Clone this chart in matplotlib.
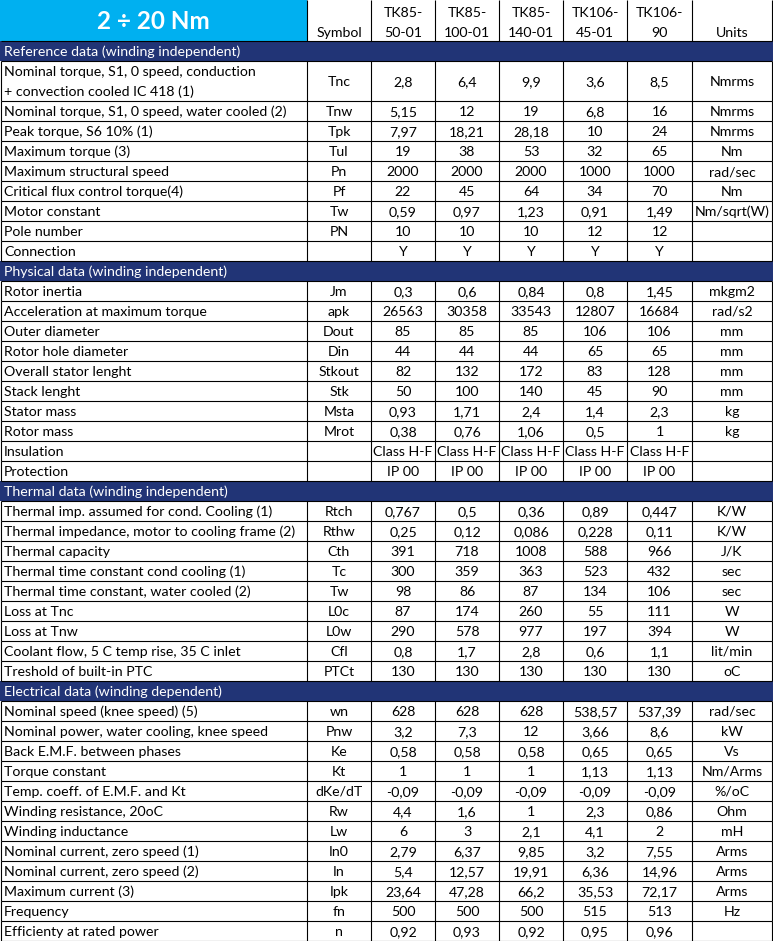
import matplotlib
matplotlib.use("Agg")
import matplotlib.pyplot as plt
from matplotlib.patches import Rectangle

# ---------------- data ----------------
title = "2 ÷ 20 Nm"
models = ["TK85-\n50-01", "TK85-\n100-01", "TK85-\n140-01", "TK106-\n45-01", "TK106-\n90"]

sec_names = ["Reference data (winding independent)",
             "Physical data (winding independent)",
             "Thermal data (winding independent)",
             "Electrical data (winding dependent)"]

ref_labels = ["Nominal torque, S1, 0 speed, conduction\n+ convection cooled IC 418 (1)",
              "Nominal torque, S1, 0 speed, water cooled (2)",
              "Peak torque, S6 10% (1)", "Maximum torque (3)",
              "Maximum structural speed", "Critical flux control torque(4)",
              "Motor constant", "Pole number", "Connection"]
ref_symbols = ["Tnc", "Tnw", "Tpk", "Tul", "Pn", "Pf", "Tw", "PN", ""]
ref_units = ["Nmrms", "Nmrms", "Nmrms", "Nm", "rad/sec", "Nm", "Nm/sqrt(W)", "", ""]
ref_values = [["2,8", "6,4", "9,9", "3,6", "8,5"],
              ["5,15", "12", "19", "6,8", "16"],
              ["7,97", "18,21", "28,18", "10", "24"],
              ["19", "38", "53", "32", "65"],
              ["2000", "2000", "2000", "1000", "1000"],
              ["22", "45", "64", "34", "70"],
              ["0,59", "0,97", "1,23", "0,91", "1,49"],
              ["10", "10", "10", "12", "12"],
              ["Y", "Y", "Y", "Y", "Y"]]

phy_labels = ["Rotor inertia", "Acceleration at maximum torque", "Outer diameter",
              "Rotor hole diameter", "Overall stator lenght", "Stack lenght",
              "Stator mass", "Rotor mass", "Insulation", "Protection"]
phy_symbols = ["Jm", "apk", "Dout", "Din", "Stkout", "Stk", "Msta", "Mrot", "", ""]
phy_units = ["mkgm2", "rad/s2", "mm", "mm", "mm", "mm", "kg", "kg", "", ""]
phy_values = [["0,3", "0,6", "0,84", "0,8", "1,45"],
              ["26563", "30358", "33543", "12807", "16684"],
              ["85", "85", "85", "106", "106"],
              ["44", "44", "44", "65", "65"],
              ["82", "132", "172", "83", "128"],
              ["50", "100", "140", "45", "90"],
              ["0,93", "1,71", "2,4", "1,4", "2,3"],
              ["0,38", "0,76", "1,06", "0,5", "1"],
              ["Class H-F"] * 5,
              ["IP 00"] * 5]

thr_labels = ["Thermal imp. assumed for cond. Cooling (1)",
              "Thermal impedance, motor to cooling frame (2)",
              "Thermal capacity", "Thermal time constant cond cooling (1)",
              "Thermal time constant, water cooled (2)", "Loss at Tnc", "Loss at Tnw",
              "Coolant flow, 5 C temp rise, 35 C inlet", "Treshold of built-in PTC"]
thr_symbols = ["Rtch", "Rthw", "Cth", "Tc", "Tw", "L0c", "L0w", "Cfl", "PTCt"]
thr_units = ["K/W", "K/W", "J/K", "sec", "sec", "W", "W", "lit/min", "oC"]
thr_values = [["0,767", "0,5", "0,36", "0,89", "0,447"],
              ["0,25", "0,12", "0,086", "0,228", "0,11"],
              ["391", "718", "1008", "588", "966"],
              ["300", "359", "363", "523", "432"],
              ["98", "86", "87", "134", "106"],
              ["87", "174", "260", "55", "111"],
              ["290", "578", "977", "197", "394"],
              ["0,8", "1,7", "2,8", "0,6", "1,1"],
              ["130", "130", "130", "130", "130"]]

ele_labels = ["Nominal speed (knee speed) (5)", "Nominal power, water cooling, knee speed",
              "Back E.M.F. between phases", "Torque constant",
              "Temp. coeff. of E.M.F. and Kt", "Winding resistance, 20oC",
              "Winding inductance", "Nominal current, zero speed (1)",
              "Nominal current, zero speed (2)", "Maximum current (3)",
              "Frequency", "Efficienty at rated power"]
ele_symbols = ["wn", "Pnw", "Ke", "Kt", "dKe/dT", "Rw", "Lw", "In0", "In", "Ipk", "fn", "n"]
ele_units = ["rad/sec", "kW", "Vs", "Nm/Arms", "%/oC", "Ohm", "mH", "Arms", "Arms",
             "Arms", "Hz", ""]
ele_values = [["628", "628", "628", "538,57", "537,39"],
              ["3,2", "7,3", "12", "3,66", "8,6"],
              ["0,58", "0,58", "0,58", "0,65", "0,65"],
              ["1", "1", "1", "1,13", "1,13"],
              ["-0,09"] * 5,
              ["4,4", "1,6", "1", "2,3", "0,86"],
              ["6", "3", "2,1", "4,1", "2"],
              ["2,79", "6,37", "9,85", "3,2", "7,55"],
              ["5,4", "12,57", "19,91", "6,36", "14,96"],
              ["23,64", "47,28", "66,2", "35,53", "72,17"],
              ["500", "500", "500", "515", "513"],
              ["0,92", "0,93", "0,92", "0,95", "0,96"]]

# ---------------- layout / style ----------------
W, H = 773, 941
col_edges = [0.5, 307, 371, 435, 499, 563, 627, 692, 772]
header_h = 40.5
unit_h = 20
header_blue = "#00B0F0"
section_blue = "#213476"
FONT = "Lato"
FS = 10.2
LW = 0.8
DY = 1.5

fig = plt.figure(figsize=(W / 100, H / 100), dpi=100)
ax = fig.add_axes([0, 0, 1, 1])
ax.set_xlim(0, W)
ax.set_ylim(H, 0)
ax.axis("off")


def hline(y, x0=col_edges[0], x1=col_edges[-1]):
    ax.plot([x0, x1], [y, y], color="black", lw=LW, solid_capstyle="butt")


def vline(x, y0, y1):
    ax.plot([x, x], [y0, y1], color="black", lw=LW, solid_capstyle="butt")


def ctext(x, y, s, **kw):
    ax.text(x, y, s, ha="center", va="center", family=FONT, fontsize=FS,
            color="black", **kw)


# header
ax.add_patch(Rectangle((0, 0), col_edges[1], header_h, facecolor=header_blue,
                       edgecolor="none"))
ax.text(col_edges[1] / 2, header_h / 2 + 1.5, title, ha="center", va="center",
        family=FONT, fontsize=17.5, fontweight="bold", color="white")
ctext((col_edges[1] + col_edges[2]) / 2, 31 + DY, "Symbol")
for i, m in enumerate(models):
    a, b = m.split("\n")
    cx = (col_edges[2 + i] + col_edges[3 + i]) / 2
    ctext(cx, 11 + DY, a)
    ctext(cx, 31 + DY, b)
ctext((col_edges[7] + col_edges[8]) / 2, 31 + DY, "Units")
for x in col_edges[1:]:
    vline(x, 0, header_h)

sections = [
    (sec_names[0], ref_labels, ref_symbols, ref_values, ref_units),
    (sec_names[1], phy_labels, phy_symbols, phy_values, phy_units),
    (sec_names[2], thr_labels, thr_symbols, thr_values, thr_units),
    (sec_names[3], ele_labels, ele_symbols, ele_values, ele_units),
]

y = header_h
hline(y)
for name, labels, symbols, values, units in sections:
    ax.add_patch(Rectangle((0, y), W, unit_h, facecolor=section_blue,
                           edgecolor="none"))
    ax.text(4, y + unit_h / 2 + DY, name, ha="left", va="center", family=FONT,
            fontsize=FS, color="white")
    y += unit_h
    hline(y)
    for lab, sym, vals, un in zip(labels, symbols, values, units):
        nl = lab.count("\n") + 1
        h = unit_h * nl
        cy = y + h / 2 + DY
        for k, part in enumerate(lab.split("\n")):
            ax.text(4, y + unit_h * k + unit_h / 2 + DY, part, ha="left",
                    va="center", family=FONT, fontsize=FS, color="black")
        ctext((col_edges[1] + col_edges[2]) / 2, cy, sym)
        for i, v in enumerate(vals):
            ctext((col_edges[2 + i] + col_edges[3 + i]) / 2, cy, v)
        ctext((col_edges[7] + col_edges[8]) / 2, cy, un)
        for x in col_edges:
            vline(x, y, y + h)
        y += h
        hline(y)

fig.savefig("out.png", dpi=100, facecolor="white")
